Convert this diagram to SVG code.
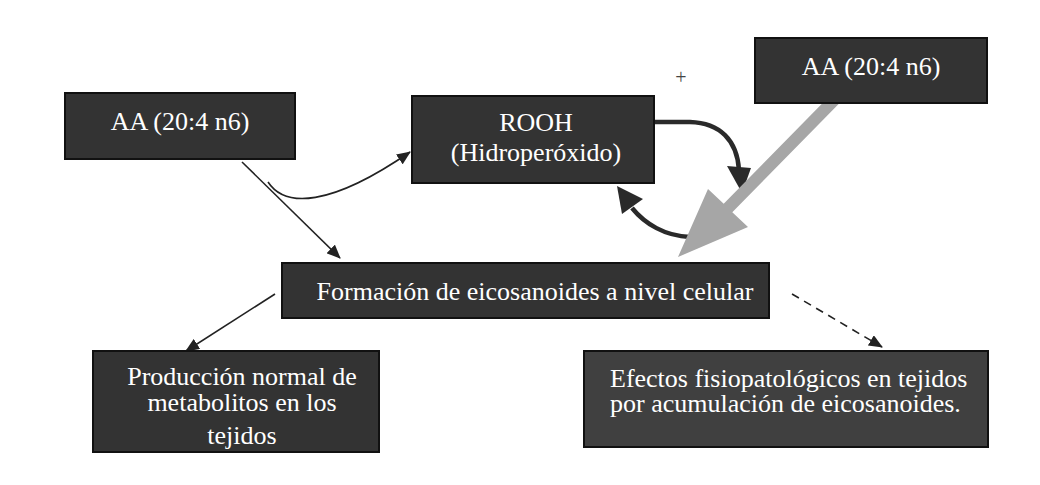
<svg xmlns="http://www.w3.org/2000/svg" width="1040" height="485" viewBox="0 0 1040 485">
<style>
.box{fill:#333333;stroke:#111111;stroke-width:2}
.box2{fill:#404040;stroke:#111111;stroke-width:2}
.t{font-family:"Liberation Serif","Times New Roman",serif;font-size:26px;fill:#ffffff}
.c{text-anchor:middle}
.thin{fill:none;stroke:#222222;stroke-width:1.6}
.thick{fill:none;stroke:#2a2a2a;stroke-width:4.5}
.head{fill:#2a2a2a}
</style>
<defs>
<marker id="arr" markerUnits="userSpaceOnUse" markerWidth="14" markerHeight="12" refX="13" refY="6" orient="auto">
<path d="M0,0 L14,6 L0,12 z" fill="#222222"/>
</marker>
</defs>
<rect width="1040" height="485" fill="#ffffff"/>
<g id="connectors">
<line class="thin" x1="242" y1="162" x2="340" y2="258" marker-end="url(#arr)"/>
<path class="thin" d="M268,182 C285,208 330,207 410,152" marker-end="url(#arr)"/>
<line class="thin" x1="275" y1="294" x2="186" y2="351" marker-end="url(#arr)"/>
<line class="thin" x1="792" y1="294" x2="882" y2="347" stroke-dasharray="8,6" marker-end="url(#arr)"/>
<path class="thick" d="M654,122 L690,122 C720,123 737,140 739,170"/>
<polygon class="head" points="727,166 751,168 742,193"/>
<path class="thick" d="M710,237 L690,237 C665,236 645,224 632,208"/>
<polygon class="head" points="617,186 643,199 622,214"/>
<polygon fill="#a6a6a6" points="835.7,89.8 844.3,98.2 732.3,212.2 748,227 678,257 708,189 723.7,203.8"/>
</g>
<text x="681" y="84" font-family="Liberation Serif, serif" font-size="20" fill="#444444" text-anchor="middle">+</text>
<g id="aa-left">
<rect class="box" x="65" y="93" width="230" height="66"/>
<text class="t c" x="180" y="130">AA (20:4 n6)</text>
</g>
<g id="rooh">
<rect class="box" x="412" y="96" width="242" height="87"/>
<text class="t c" x="536" y="131">ROOH</text>
<text class="t c" x="536" y="161">(Hidroperóxido)</text>
</g>
<g id="aa-right">
<rect class="box" x="755" y="38" width="232" height="65"/>
<text class="t c" x="871" y="75">AA (20:4 n6)</text>
</g>
<g id="formacion">
<rect class="box" x="282" y="263" width="487" height="55"/>
<text class="t c" x="535" y="300">Formación de eicosanoides a nivel celular</text>
</g>
<g id="produccion">
<rect class="box" x="93" y="351" width="286" height="101"/>
<text class="t c" x="242" y="385">Producción normal de</text>
<text class="t c" x="242" y="411">metabolitos en los</text>
<text class="t c" x="242" y="444">tejidos</text>
</g>
<g id="efectos">
<rect class="box2" x="584" y="351" width="404" height="96"/>
<text class="t" x="610" y="387">Efectos fisiopatológicos en tejidos</text>
<text class="t" x="610" y="412">por acumulación de eicosanoides.</text>
</g>
</svg>
